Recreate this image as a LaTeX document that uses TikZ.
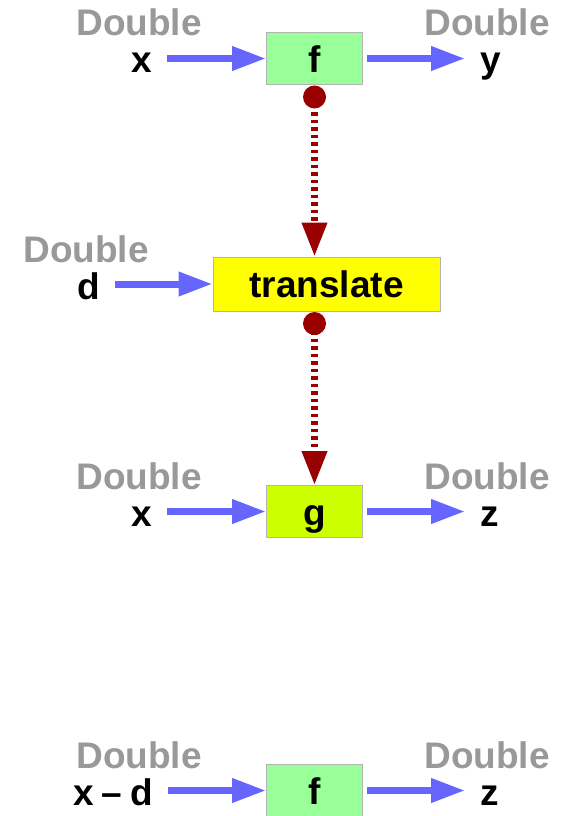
\documentclass[tikz,border=0pt]{standalone}
\usepackage{fontspec}
\setmainfont{Liberation Sans}
\usetikzlibrary{arrows.meta,positioning}

\definecolor{flowblue}{HTML}{6666FF}
\definecolor{linkred}{HTML}{990000}
\definecolor{typegray}{HTML}{999999}
\definecolor{boxgreen}{HTML}{99FF99}
\definecolor{boxyellow}{HTML}{FFFF00}
\definecolor{boxlime}{HTML}{CCFF00}
\definecolor{boxline}{HTML}{B3B3B3}

\begin{document}
\begin{tikzpicture}[x=1pt,y=-1pt,
	font=\fontsize{37}{40}\selectfont\bfseries,
	func/.style={draw=boxline,line width=1pt,minimum height=52pt,
		inner sep=0,text height=27pt,text depth=0pt},
	valin/.style={inner xsep=15pt,inner ysep=0,anchor=base east},
	valout/.style={inner xsep=15pt,inner ysep=0,anchor=base west},
	typelab/.style={text=typegray,inner sep=0,anchor=base},
	flow/.style={draw=flowblue,line width=7pt,
		-{Triangle[length=34pt,width=23pt]}},
	link/.style={draw=linkred,line width=7pt,dash pattern=on 3.5pt off 4pt,
		-{Triangle[length=34pt,width=24pt]}}]
		
		\useasboundingbox (0,0) rectangle (561,816);
		
		% Functions
		\node[func,
		fill=boxgreen,
		minimum width=96pt] (fbox) at (314.5,58.5) {f};
		
		\node[func,
		fill=boxyellow,
		minimum width=227pt,
		minimum height=54pt] (trbox) at (326.5,284) {translate};
		
		\node[func,
		fill=boxlime,
		minimum width=96pt] (gbox) at (314.5,511.5) {g};
		
		\node[func,
		fill=boxgreen,
		minimum width=96pt] (fbox2) at (314.5,790.5) {f};
		
		% Values
		\node[valin] (xin) at (167,73) {x};
		\node[valout] (yout) at (465,73) {y};
		\node[valin] (din) at (115,299) {d};
		\node[valin] (xin2) at (167,526) {x};
		\node[valout] (zout) at (465,526) {z};
		\node[valin] (xdin) at (168,805) {x\hspace{8pt}--\hspace{8pt}d};
		\node[valout] (zout2) at (465,805) {z};
		
		% Types
		\node[typelab] (xtype) at (139,36) {Double};
		\node[typelab] (ytype) at (487,36) {Double};
		\node[typelab] (dtype) at (86,262) {Double};
		\node[typelab] (xtype2) at (139,489) {Double};
		\node[typelab] (ztype) at (487,489) {Double};
		\node[typelab] (xdtype) at (139,768) {Double};
		\node[typelab] (ztype2) at (487,768) {Double};
		
		% Arrows
		\draw[flow] (xin.east |- fbox.west) -- (fbox.west);
		\draw[flow,shorten <=4pt] (fbox.east) -- (yout.west |- fbox.east);
		\draw[flow] (din.east |- trbox.west) -- (trbox.west);
		\draw[flow] (xin2.east |- gbox.west) -- (gbox.west);
		\draw[flow,shorten <=4pt] (gbox.east) -- (zout.west |- gbox.east);
		\draw[flow] (xdin.east |- fbox2.west) -- (fbox2.west);
		\draw[flow,shorten <=4pt] (fbox2.east) -- (zout2.west |- fbox2.east);
		
		% Links
		\coordinate (fdot) at ([yshift=-12pt]fbox.south);
		\coordinate (trdot) at ([yshift=-12pt]gbox.north |- trbox.south);
		
		\draw[link] (fdot) -- (fdot |- trbox.north);
		\draw[link] (trdot) -- (gbox.north);
		\fill[linkred] (fdot) circle[radius=11.5pt];
		\fill[linkred] (trdot) circle[radius=11.5pt];
		
		\end{tikzpicture}
\end{document}
